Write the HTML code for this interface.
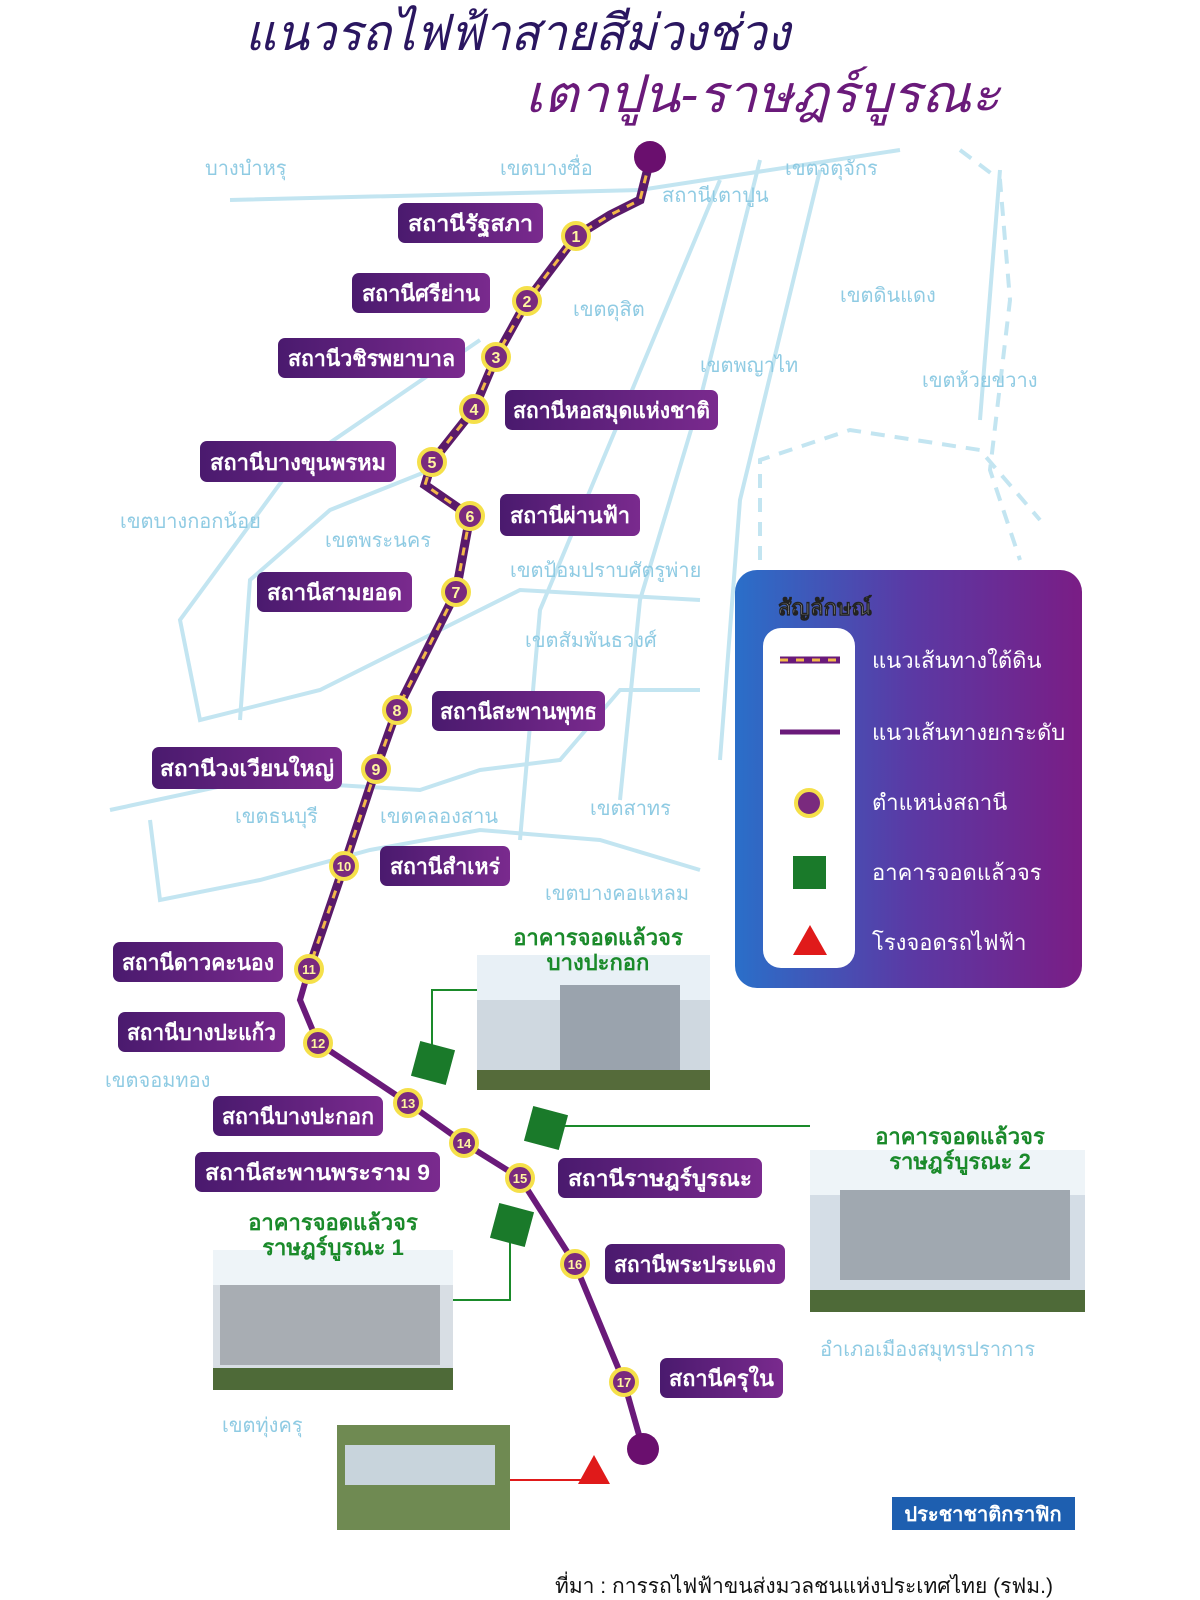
<!DOCTYPE html>
<html><head><meta charset="utf-8"><style>
html,body{margin:0;padding:0;background:#fff;}
svg{display:block;font-family:"Liberation Sans","Noto Sans CJK SC","WenQuanYi Zen Hei",sans-serif;}
.st{fill:#fff;font-size:22px;font-weight:bold;}
.dz{fill:#8fcbe3;font-size:20px;}
</style></head><body>
<svg width="1200" height="1600" viewBox="0 0 1200 1600">
<defs>
<linearGradient id="lg" x1="0" x2="1" y1="0" y2="0"><stop offset="0" stop-color="#2a6fc9"/><stop offset="0.5" stop-color="#5a3aa5"/><stop offset="1" stop-color="#7a1d85"/></linearGradient>
<linearGradient id="sb" x1="0" x2="1"><stop offset="0" stop-color="#4a1a6e"/><stop offset="1" stop-color="#7a2a8e"/></linearGradient>
</defs>
<g fill="none" stroke="#c3e5f1" stroke-width="4">
<path d="M230 200 L640 190 L900 150"/>
<path d="M720 180 L540 610 L520 840"/>
<path d="M760 160 L700 400 L640 600 L620 800"/>
<path d="M820 170 L740 500 L720 760"/>
<path d="M1000 170 L980 420"/>
<path d="M110 810 L250 780 L420 790 L480 770 L560 760 L620 690 L700 690"/>
<path d="M150 820 L160 900 L260 880 L370 850 L480 830 L600 840 L700 870"/>
<path d="M480 340 L290 470 L180 620 L200 720 L320 690 L420 640 L520 590 L700 600"/>
<path d="M430 470 L330 510 L250 580 L240 720"/>
</g>
<g fill="none" stroke="#c3e5f1" stroke-width="4" stroke-dasharray="14 10">
<path d="M960 150 L1000 180 L1010 300 L990 470 L1020 560"/>
<path d="M760 560 L760 460 L850 430 L980 450 L1040 520"/>
</g>
<text x="245" y="50" font-size="50" font-style="italic" fill="#2a1660" textLength="545" lengthAdjust="spacingAndGlyphs">แนวรถไฟฟ้าสายสีม่วงช่วง</text>
<text x="525" y="112" font-size="52" font-style="italic" fill="#6a1a7a" textLength="475" lengthAdjust="spacingAndGlyphs">เตาปูน-ราษฎร์บูรณะ</text>
<g class="dz">
<text x="205" y="175">บางบำหรุ</text><text x="500" y="175">เขตบางซื่อ</text><text x="785" y="175">เขตจตุจักร</text>
<text x="662" y="202">สถานีเตาปูน</text><text x="573" y="316">เขตดุสิต</text><text x="840" y="302">เขตดินแดง</text>
<text x="700" y="372">เขตพญาไท</text><text x="922" y="387">เขตห้วยขวาง</text><text x="120" y="528">เขตบางกอกน้อย</text>
<text x="325" y="547">เขตพระนคร</text><text x="510" y="577">เขตป้อมปราบศัตรูพ่าย</text><text x="525" y="647">เขตสัมพันธวงศ์</text>
<text x="235" y="823">เขตธนบุรี</text><text x="380" y="823">เขตคลองสาน</text><text x="590" y="815">เขตสาทร</text>
<text x="545" y="900">เขตบางคอแหลม</text><text x="105" y="1087">เขตจอมทอง</text><text x="820" y="1356">อำเภอเมืองสมุทรปราการ</text>
<text x="222" y="1432">เขตทุ่งครุ</text>
</g>
<path d="M650 160 L640 200 L610 215 L576 236 L527 301 L496 357 L474 409 L432 462 L425 485 L470 516" fill="none" stroke="#5a1a6a" stroke-width="9"/>
<path d="M650 160 L640 200 L610 215 L576 236 L527 301 L496 357 L474 409 L432 462 L425 485 L470 516" fill="none" stroke="#f2b84a" stroke-width="3" stroke-dasharray="8 8"/>
<path d="M470 516 L456 592 L397 710 L376 769 L344 866 L309 969" fill="none" stroke="#5a1a6a" stroke-width="9"/>
<path d="M470 516 L456 592 L397 710 L376 769 L344 866 L309 969" fill="none" stroke="#f2b84a" stroke-width="3" stroke-dasharray="8 8"/>
<path d="M309 969 L300 1000 L318 1043 L408 1103 L464 1143 L520 1178 L575 1264 L624 1382 L643 1449" fill="none" stroke="#6a1a7a" stroke-width="6"/>
<circle cx="650" cy="157" r="16" fill="#6a0f6e"/><circle cx="643" cy="1449" r="16" fill="#6a0f6e"/>
<g font-size="16" font-weight="bold" text-anchor="middle">
<g stroke="#f5e04a" stroke-width="4" fill="#7a2a7e">
<circle cx="576" cy="236" r="13"/><circle cx="527" cy="301" r="13"/><circle cx="496" cy="357" r="13"/><circle cx="474" cy="409" r="13"/><circle cx="432" cy="462" r="13"/><circle cx="470" cy="516" r="13"/><circle cx="456" cy="592" r="13"/><circle cx="397" cy="710" r="13"/><circle cx="376" cy="769" r="13"/><circle cx="344" cy="866" r="13"/><circle cx="309" cy="969" r="13"/><circle cx="318" cy="1043" r="13"/><circle cx="408" cy="1103" r="13"/><circle cx="464" cy="1143" r="13"/><circle cx="520" cy="1178" r="13"/><circle cx="575" cy="1264" r="13"/><circle cx="624" cy="1382" r="13"/>
</g>
<g fill="#fff5a0">
<text x="576" y="242">1</text><text x="527" y="307">2</text><text x="496" y="363">3</text><text x="474" y="415">4</text><text x="432" y="468">5</text><text x="470" y="522">6</text><text x="456" y="598">7</text><text x="397" y="716">8</text><text x="376" y="775">9</text><text x="344" y="871" font-size="13">10</text><text x="309" y="974" font-size="13">11</text><text x="318" y="1048" font-size="13">12</text><text x="408" y="1108" font-size="13">13</text><text x="464" y="1148" font-size="13">14</text><text x="520" y="1183" font-size="13">15</text><text x="575" y="1269" font-size="13">16</text><text x="624" y="1387" font-size="13">17</text>
</g></g>
<g lengthAdjust="spacingAndGlyphs">
<rect x="398" y="203" width="145" height="40" rx="7" fill="url(#sb)"/><text class="st" x="408" y="231" textLength="125" lengthAdjust="spacingAndGlyphs">สถานีรัฐสภา</text>
<rect x="352" y="273" width="138" height="40" rx="7" fill="url(#sb)"/><text class="st" x="362" y="301" textLength="118" lengthAdjust="spacingAndGlyphs">สถานีศรีย่าน</text>
<rect x="278" y="338" width="187" height="40" rx="7" fill="url(#sb)"/><text class="st" x="288" y="366" textLength="167" lengthAdjust="spacingAndGlyphs">สถานีวชิรพยาบาล</text>
<rect x="505" y="390" width="213" height="40" rx="7" fill="url(#sb)"/><text class="st" x="513" y="418" textLength="197" lengthAdjust="spacingAndGlyphs">สถานีหอสมุดแห่งชาติ</text>
<rect x="200" y="441" width="196" height="41" rx="7" fill="url(#sb)"/><text class="st" x="210" y="470" textLength="176" lengthAdjust="spacingAndGlyphs">สถานีบางขุนพรหม</text>
<rect x="500" y="494" width="140" height="42" rx="7" fill="url(#sb)"/><text class="st" x="510" y="523" textLength="120" lengthAdjust="spacingAndGlyphs">สถานีผ่านฟ้า</text>
<rect x="257" y="572" width="155" height="40" rx="7" fill="url(#sb)"/><text class="st" x="267" y="600" textLength="135" lengthAdjust="spacingAndGlyphs">สถานีสามยอด</text>
<rect x="432" y="691" width="173" height="40" rx="7" fill="url(#sb)"/><text class="st" x="440" y="719" textLength="157" lengthAdjust="spacingAndGlyphs">สถานีสะพานพุทธ</text>
<rect x="152" y="747" width="190" height="42" rx="7" fill="url(#sb)"/><text class="st" x="160" y="776" textLength="174" lengthAdjust="spacingAndGlyphs">สถานีวงเวียนใหญ่</text>
<rect x="380" y="846" width="130" height="40" rx="7" fill="url(#sb)"/><text class="st" x="390" y="874" textLength="110" lengthAdjust="spacingAndGlyphs">สถานีสำเหร่</text>
<rect x="113" y="942" width="170" height="40" rx="7" fill="url(#sb)"/><text class="st" x="122" y="970" textLength="152" lengthAdjust="spacingAndGlyphs">สถานีดาวคะนอง</text>
<rect x="118" y="1012" width="167" height="40" rx="7" fill="url(#sb)"/><text class="st" x="127" y="1040" textLength="149" lengthAdjust="spacingAndGlyphs">สถานีบางปะแก้ว</text>
<rect x="213" y="1096" width="170" height="40" rx="7" fill="url(#sb)"/><text class="st" x="222" y="1124" textLength="152" lengthAdjust="spacingAndGlyphs">สถานีบางปะกอก</text>
<rect x="195" y="1152" width="245" height="40" rx="7" fill="url(#sb)"/><text class="st" x="205" y="1180" textLength="225" lengthAdjust="spacingAndGlyphs">สถานีสะพานพระราม 9</text>
<rect x="558" y="1158" width="204" height="40" rx="7" fill="url(#sb)"/><text class="st" x="568" y="1186" textLength="184" lengthAdjust="spacingAndGlyphs">สถานีราษฎร์บูรณะ</text>
<rect x="605" y="1244" width="180" height="40" rx="7" fill="url(#sb)"/><text class="st" x="614" y="1272" textLength="162" lengthAdjust="spacingAndGlyphs">สถานีพระประแดง</text>
<rect x="660" y="1358" width="123" height="40" rx="7" fill="url(#sb)"/><text class="st" x="669" y="1386" textLength="105" lengthAdjust="spacingAndGlyphs">สถานีครุใน</text>
</g>
<rect x="735" y="570" width="347" height="418" rx="22" fill="url(#lg)"/>
<text x="778" y="615" font-size="22" font-weight="bold" fill="#fff" stroke="#222" stroke-width="0.6">สัญลักษณ์</text>
<rect x="763" y="628" width="92" height="340" rx="18" fill="#fff"/>
<line x1="780" y1="660" x2="840" y2="660" stroke="#6a1a7a" stroke-width="7"/>
<line x1="780" y1="660" x2="840" y2="660" stroke="#f2b84a" stroke-width="3" stroke-dasharray="8 8"/>
<line x1="780" y1="732" x2="840" y2="732" stroke="#6a1a7a" stroke-width="5"/>
<circle cx="809" cy="803" r="13" fill="#7a2a7e" stroke="#f5e04a" stroke-width="4"/>
<rect x="793" y="856" width="33" height="33" fill="#1a7a2a"/>
<polygon points="810,925 793,955 827,955" fill="#e01a1a"/>
<g font-size="22" fill="#fff">
<text x="872" y="668">แนวเส้นทางใต้ดิน</text><text x="872" y="740">แนวเส้นทางยกระดับ</text><text x="872" y="810">ตำแหน่งสถานี</text><text x="872" y="880">อาคารจอดแล้วจร</text><text x="872" y="950">โรงจอดรถไฟฟ้า</text>
</g>
<g>
<rect x="477" y="955" width="233" height="135" fill="#cfd8e0"/><rect x="477" y="955" width="233" height="45" fill="#e8f0f6"/><rect x="560" y="985" width="120" height="85" fill="#9aa3ad"/><rect x="477" y="1070" width="233" height="20" fill="#556b3a"/>
<rect x="810" y="1150" width="275" height="162" fill="#d4dde6"/><rect x="810" y="1150" width="275" height="45" fill="#eef4f8"/><rect x="840" y="1190" width="230" height="90" fill="#a0a8b0"/><rect x="810" y="1290" width="275" height="22" fill="#4e6a38"/>
<rect x="213" y="1250" width="240" height="140" fill="#d8dee4"/><rect x="213" y="1250" width="240" height="35" fill="#eef4f8"/><rect x="220" y="1285" width="220" height="80" fill="#a8adb3"/><rect x="213" y="1368" width="240" height="22" fill="#4e6a38"/>
<rect x="337" y="1425" width="173" height="105" fill="#6f8a52"/><rect x="345" y="1445" width="150" height="40" fill="#c8d4dc"/>
</g>
<g font-size="22" font-weight="bold" fill="#1a8a2a" text-anchor="middle">
<text x="598" y="945">อาคารจอดแล้วจร</text><text x="598" y="970">บางปะกอก</text>
<text x="960" y="1144">อาคารจอดแล้วจร</text><text x="960" y="1169">ราษฎร์บูรณะ 2</text>
<text x="333" y="1230">อาคารจอดแล้วจร</text><text x="333" y="1255">ราษฎร์บูรณะ 1</text>
</g>
<g stroke="#1a8a2a" stroke-width="2" fill="none">
<path d="M477 990 L432 990 L432 1045"/><path d="M565 1126 L810 1126"/><path d="M453 1300 L510 1300 L510 1240"/>
</g>
<path d="M510 1480 L590 1480" stroke="#e01a1a" stroke-width="2"/>
<g fill="#1a7a2a"><rect x="415" y="1045" width="36" height="36" transform="rotate(15 433 1063)"/><rect x="528" y="1110" width="36" height="36" transform="rotate(15 546 1128)"/><rect x="494" y="1207" width="36" height="36" transform="rotate(15 512 1225)"/></g>
<polygon points="594,1455 578,1484 610,1484" fill="#e01a1a"/>
<rect x="892" y="1497" width="183" height="33" fill="#1e5fb0"/>
<text x="983" y="1521" font-size="20" font-weight="bold" fill="#fff" text-anchor="middle">ประชาชาติกราฟิก</text>
<text x="555" y="1593" font-size="21" fill="#111">ที่มา : การรถไฟฟ้าขนส่งมวลชนแห่งประเทศไทย (รฟม.)</text>
</svg>
</body></html>
